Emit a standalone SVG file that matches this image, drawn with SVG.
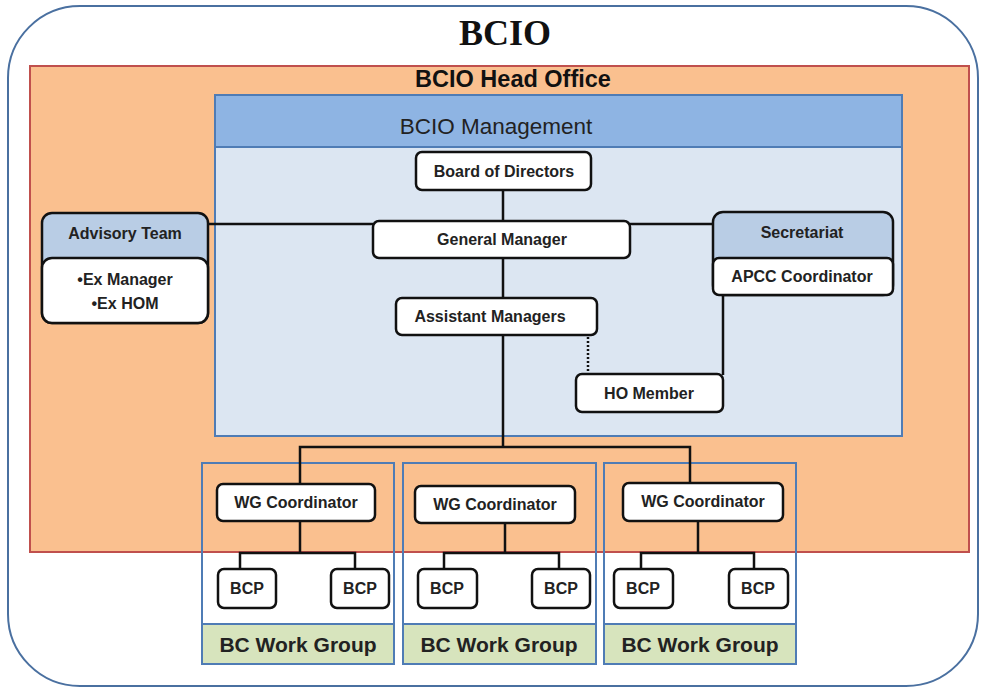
<svg xmlns="http://www.w3.org/2000/svg" width="981" height="688" viewBox="0 0 981 688">
<style>
.box{fill:#fff;stroke:#111;stroke-width:2.5}
.hdr{fill:#b9cde5;stroke:#111;stroke-width:2.5}
.t{font-family:"Liberation Sans",Arial,sans-serif;font-weight:bold;font-size:16px;fill:#222;text-anchor:middle}
.wg{fill:none;stroke:#4f7cb5;stroke-width:2}
.green{fill:#d7e4bd;stroke:#4f7cb5;stroke-width:2}
.ln{fill:none;stroke:#111;stroke-width:2.5}
.wgt{font-family:"Liberation Sans",Arial,sans-serif;font-weight:bold;font-size:21px;fill:#222;text-anchor:middle}
</style>
<rect width="981" height="688" fill="#fff"/>
<g id="bcio">
<rect x="8" y="6" width="970" height="680" rx="72" ry="72" fill="#fff" stroke="#4a70a0" stroke-width="2"/>
<text x="505" y="45" font-family="Liberation Serif,serif" font-weight="bold" font-size="36" text-anchor="middle" fill="#111">BCIO</text>
</g>
<g id="head-office">
<rect x="30" y="66" width="939" height="486" fill="#fac08f" stroke="#c0504d" stroke-width="2"/>
<text x="513" y="87" font-family="Liberation Sans,Arial,sans-serif" font-weight="bold" font-size="23.5" text-anchor="middle" fill="#111">BCIO Head Office</text>
</g>
<g id="management">
<rect x="215" y="95" width="687" height="341" fill="#dce6f2" stroke="#4f7cb5" stroke-width="2"/>
<rect x="215" y="95" width="687" height="52" fill="#8eb4e3" stroke="#4f7cb5" stroke-width="2"/>
<text x="496" y="134" font-family="Liberation Sans,Arial,sans-serif" font-size="22.5" text-anchor="middle" fill="#222">BCIO Management</text>
</g>
<g id="workgroups">
<rect class="wg" x="202" y="463" width="192" height="201" fill="none"/>
<rect class="green" x="202" y="624" width="192" height="40"/>
<text class="wgt" x="298" y="652">BC Work Group</text>
<rect class="wg" x="403" y="463" width="193" height="201"/>
<rect class="green" x="403" y="624" width="193" height="40"/>
<text class="wgt" x="499" y="652">BC Work Group</text>
<rect class="wg" x="604" y="463" width="192" height="201"/>
<rect class="green" x="604" y="624" width="192" height="40"/>
<text class="wgt" x="700" y="652">BC Work Group</text>
</g>
<g id="connectors">
<path class="ln" d="M503 190V220M503 258V298M503 335V447M300 484V447H690V483M208 224H373M630 224H713"/>
<path class="ln" d="M723 295V375"/>
<path d="M588 337V374" stroke="#111" stroke-width="2.5" stroke-dasharray="2,2" fill="none"/>
<path class="ln" d="M300 521V553M240 569V553H355V569"/>
<path class="ln" d="M505 523V553M444 569V553H559V569"/>
<path class="ln" d="M698 521V553M641 569V553H754V569"/>
</g>
<g id="board-of-directors">
<rect class="box" x="416" y="152" width="175" height="38" rx="6"/>
<text class="t" x="504" y="177">Board of Directors</text>
</g>
<g id="general-manager">
<rect class="box" x="373" y="221" width="257" height="37" rx="6"/>
<text class="t" x="502" y="245">General Manager</text>
</g>
<g id="assistant-managers">
<rect class="box" x="396" y="298" width="201" height="37" rx="6"/>
<text class="t" x="490" y="322">Assistant Managers</text>
</g>
<g id="advisory-team">
<rect class="hdr" x="42" y="213" width="166" height="110" rx="10"/>
<rect class="box" x="42" y="258" width="166" height="65" rx="10"/>
<text class="t" x="125" y="239">Advisory Team</text>
<text class="t" x="125" y="285">•Ex Manager</text>
<text class="t" x="125" y="309">•Ex HOM</text>
</g>
<g id="secretariat">
<rect class="hdr" x="713" y="212" width="180" height="83" rx="10"/>
<rect class="box" x="713" y="258" width="180" height="37" rx="6"/>
<text class="t" x="802" y="238">Secretariat</text>
<text class="t" x="802" y="282">APCC Coordinator</text>
</g>
<g id="ho-member">
<rect class="box" x="576" y="374" width="147" height="38" rx="6"/>
<text class="t" x="649" y="399">HO Member</text>
</g>
<g id="wg1">
<rect class="box" x="217" y="484" width="158" height="37" rx="6"/>
<text class="t" x="296" y="508">WG Coordinator</text>
<rect class="box" x="218" y="569" width="58" height="39" rx="6"/>
<text class="t" x="247" y="594">BCP</text>
<rect class="box" x="331" y="569" width="58" height="39" rx="6"/>
<text class="t" x="360" y="594">BCP</text>
</g>
<g id="wg2">
<rect class="box" x="415" y="486" width="160" height="37" rx="6"/>
<text class="t" x="495" y="510">WG Coordinator</text>
<rect class="box" x="418" y="569" width="59" height="39" rx="6"/>
<text class="t" x="447" y="594">BCP</text>
<rect class="box" x="532" y="569" width="58" height="39" rx="6"/>
<text class="t" x="561" y="594">BCP</text>
</g>
<g id="wg3">
<rect class="box" x="623" y="483" width="160" height="38" rx="6"/>
<text class="t" x="703" y="507">WG Coordinator</text>
<rect class="box" x="614" y="569" width="59" height="39" rx="6"/>
<text class="t" x="643" y="594">BCP</text>
<rect class="box" x="729" y="569" width="59" height="39" rx="6"/>
<text class="t" x="758" y="594">BCP</text>
</g>
</svg>
